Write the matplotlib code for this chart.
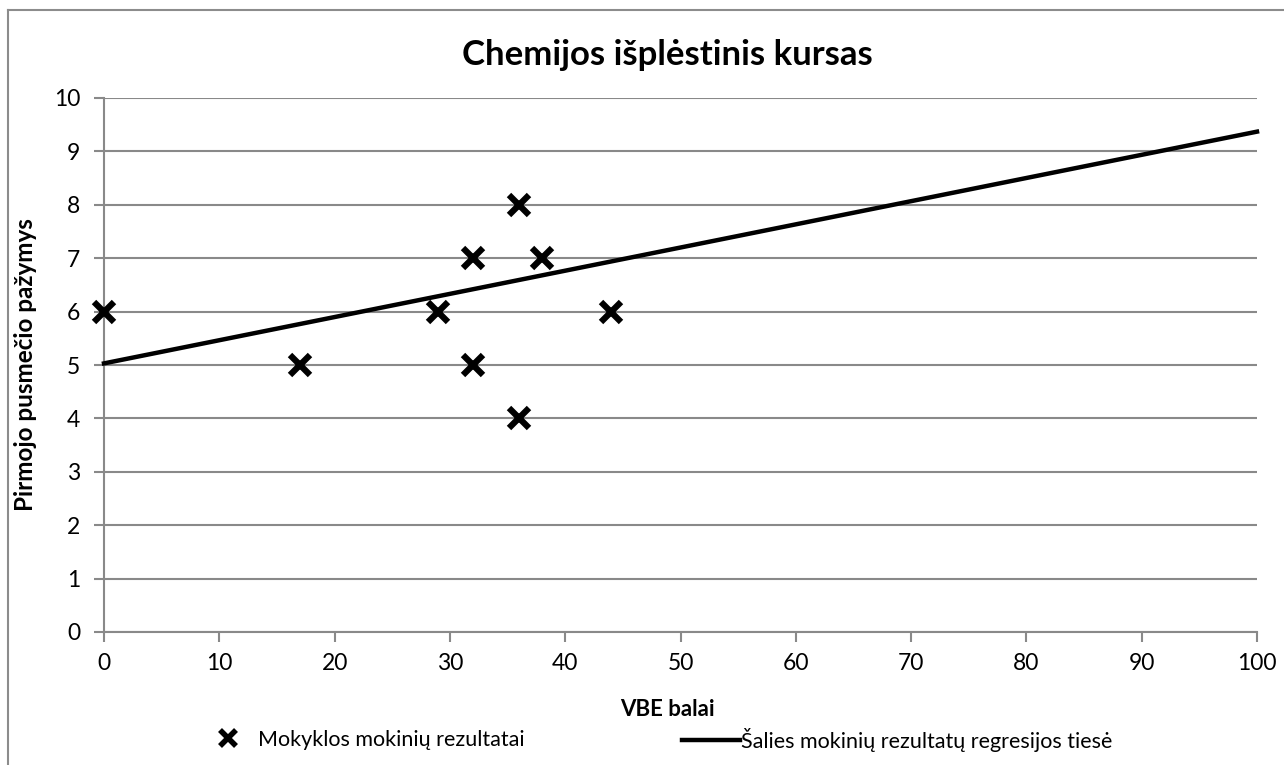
import matplotlib.pyplot as plt
from matplotlib.lines import Line2D

# school results
vbe_scores = [0, 17, 29, 32, 32, 36, 36, 38, 44]
grades = [6, 5, 6, 7, 5, 8, 4, 7, 6]

# national regression line end points
reg_x = [0, 100]
reg_y = [5.03, 9.37]

x_ticks = list(range(0, 101, 10))
y_ticks = list(range(0, 11))

plt.rcParams['font.family'] = ['Lato', 'DejaVu Sans']

fig = plt.figure(figsize=(12.84, 7.65), dpi=100)
ax = fig.add_axes([104 / 1284, 1 - 632 / 765, (1257 - 104) / 1284, (632 - 98) / 765])

grid_col = '#898989'
ax.set_xlim(0, 100)
ax.set_ylim(0, 10)
ax.set_xticks(x_ticks)
ax.set_yticks(y_ticks)
ax.yaxis.grid(True, color=grid_col, linewidth=1.5)
ax.set_axisbelow(True)
for s in ['top', 'right']:
    ax.spines[s].set_visible(False)
for s in ['left', 'bottom']:
    ax.spines[s].set_color(grid_col)
    ax.spines[s].set_linewidth(1.5)
ax.tick_params(axis='both', colors=grid_col, width=1.5, length=7, labelsize=16.5,
               labelcolor='black')
ax.tick_params(axis='x', pad=8)
ax.tick_params(axis='y', pad=10)

ax.plot(reg_x, reg_y, color='black', linewidth=3.2, clip_on=False, zorder=3)
ax.plot(vbe_scores, grades, linestyle='none', marker='x', color='black',
        markersize=14, markeredgewidth=4.5, clip_on=False, zorder=4)

# Excel centres title and x label on the chart area, not the plot area
mid = 0.489
ax.set_title('Chemijos išplėstinis kursas', fontsize=25, fontweight='bold', pad=24, x=mid)
ax.set_xlabel('VBE balai', fontsize=16, fontweight='bold', labelpad=18, x=mid)
ax.set_ylabel('Pirmojo pusmečio pažymys', fontsize=17.5, fontweight='bold', labelpad=12)

h_marker = Line2D([], [], linestyle='none', marker='x', color='black', markersize=11,
                  markeredgewidth=4)
h_line = Line2D([], [], color='black', linewidth=3.2)
leg_y = 1 - 740 / 765
fig.legend([h_marker], ['Mokyklos mokinių rezultatai'], loc='center left',
           bbox_to_anchor=(199 / 1284, leg_y), frameon=False, fontsize=15.5,
           handlelength=2.7, handletextpad=0.05, borderpad=0, borderaxespad=0)
fig.legend([h_line], ['Šalies mokinių rezultatų regresijos tiesė'], loc='center left',
           bbox_to_anchor=(682 / 1284, leg_y), frameon=False, fontsize=15.5,
           handlelength=2.7, handletextpad=0.05, borderpad=0, borderaxespad=0)

# outer chart frame (top and left edges visible)
frame_col = '#8c8c8c'
fig.add_artist(Line2D([8 / 1284, 8 / 1284], [0, 1 - 10 / 765], color=frame_col,
                      linewidth=1.5, transform=fig.transFigure))
fig.add_artist(Line2D([8 / 1284, 1], [1 - 10 / 765, 1 - 10 / 765], color=frame_col,
                      linewidth=1.5, transform=fig.transFigure))

fig.savefig('out.png', dpi=100)
